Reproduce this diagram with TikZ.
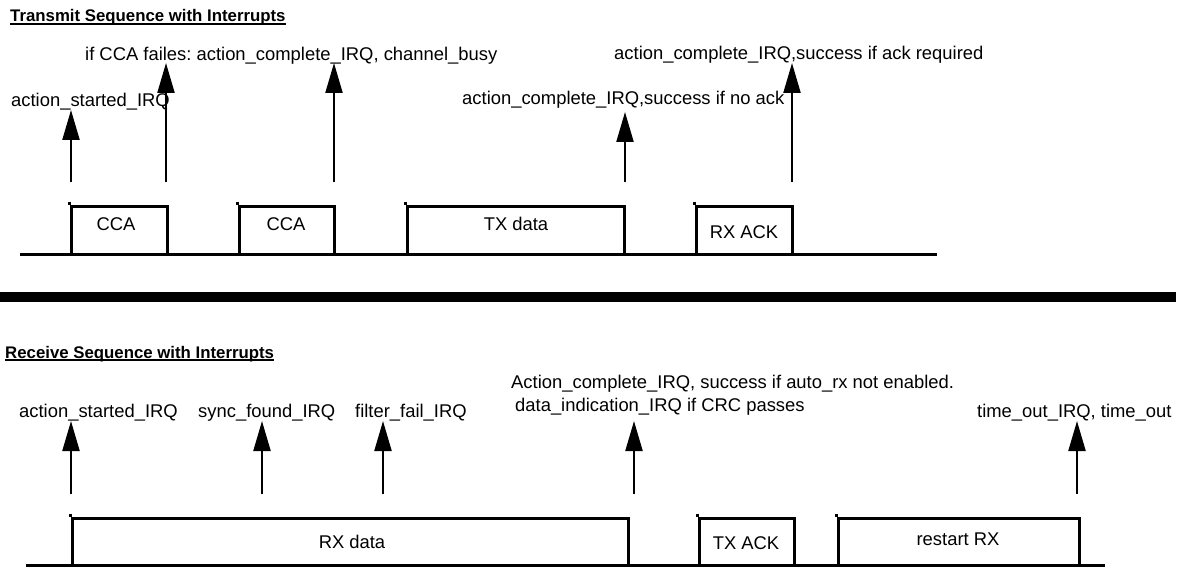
\documentclass[tikz,border=0pt]{standalone}
\usepackage{fontspec}
\setmainfont{Liberation Sans}
\usetikzlibrary{arrows.meta}
\frenchspacing
\tikzset{
  lbl/.style={anchor=base west, inner sep=0pt, font=\fontsize{18.4}{22}\selectfont},
  ttl/.style={anchor=base west, inner sep=0pt, font=\fontsize{16.8}{20}\selectfont\bfseries},
  boxtxt/.style={anchor=base, inner sep=0pt, font=\fontsize{18.4}{22}\selectfont},
  sigbox/.style={draw, line width=3pt, rectangle, inner sep=0pt, minimum height=48pt},
  irq/.style={line width=2.2pt, -{Triangle[length=30pt,width=17pt]}},
  timeline/.style={line width=3pt},
  uline/.style={line width=1.3pt},
  tick/.style={line width=3pt}
}
\begin{document}
\begin{tikzpicture}[x=1pt,y=-1pt]
\path[use as bounding box] (0,0) rectangle (1184,567);

% ---------- Transmit ----------
\node[ttl] (ttx) at (10,22) {Transmit Sequence with Interrupts};
\draw[uline] ([yshift=-2pt]ttx.base west) -- ([yshift=-2pt]ttx.base east);

\coordinate (tl0) at (20,254);
\coordinate (tl1) at (937,254);
\draw[timeline] (tl0) -- (tl1);

\node[sigbox, minimum width=96pt] (cca1) at (119,230) {};
\node[sigbox, minimum width=95pt] (cca2) at (286.5,230) {};
\node[sigbox, minimum width=217pt] (txd) at (515.5,230) {};
\node[sigbox, minimum width=96pt] (rxack) at (744,230) {};
\foreach \b in {cca1,cca2,txd,rxack} \draw[tick] (\b.north west) -- ++(0,-3);

\node[boxtxt] (cca1t) at (116,230) {CCA};
\node[boxtxt] (cca2t) at (286,230) {CCA};
\node[boxtxt] (txdt) at (516,230) {TX data};
\node[boxtxt] (rxackt) at (744,238) {RX ACK};

\node[lbl] (l1) at (11,107) {action\_started\_IRQ};
\node[lbl] (l2) at (85,61) {if CCA failes: action\_complete\_IRQ, channel\_busy};
\node[lbl] (l3) at (462,105) {action\_complete\_IRQ,success if no ack};
\node[lbl] (l4) at (614,60) {action\_complete\_IRQ,success if ack required};

\coordinate (a1s) at (71,182);  \coordinate (a1e) at (71,110);
\coordinate (a2s) at (166,182); \coordinate (a2e) at (166,63);
\coordinate (a3s) at (334,182); \coordinate (a3e) at (334,63);
\coordinate (a4s) at (625,182); \coordinate (a4e) at (625,112);
\coordinate (a5s) at (792,182); \coordinate (a5e) at (792,63);
\foreach \i in {1,...,5} \draw[irq] (a\i s) -- (a\i e);

% ---------- separator ----------
\fill (0,292) rectangle (1176,302);

% ---------- Receive ----------
\node[ttl] (trx) at (5,358) {Receive Sequence with Interrupts};
\draw[uline] ([yshift=-2pt]trx.base west) -- ([yshift=-2pt]trx.base east);

\coordinate (rl0) at (26,565);
\coordinate (rl1) at (1105,565);
\draw[timeline] (rl0) -- (rl1);

\node[sigbox, minimum width=556pt, minimum height=47pt] (rxd) at (350,541.5) {};
\node[sigbox, minimum width=95pt, minimum height=47pt] (txack) at (746.5,541.5) {};
\node[sigbox, minimum width=241pt, minimum height=47pt] (rst) at (958.5,541.5) {};
\foreach \b in {rxd,txack,rst} \draw[tick] (\b.north west) -- ++(0,-3);

\node[boxtxt] (rxdt) at (352,548) {RX data};
\node[boxtxt] (txackt) at (746,549) {TX ACK};
\node[boxtxt] (rstt) at (958,545) {restart RX};

\node[lbl] (m1) at (19,417) {action\_started\_IRQ};
\node[lbl] (m2) at (198,417) {sync\_found\_IRQ};
\node[lbl] (m3) at (355,417) {filter\_fail\_IRQ};
\node[lbl] (m4) at (511,388) {Action\_complete\_IRQ, success if auto\_rx not enabled.};
\node[lbl] (m5) at (515,411) {data\_indication\_IRQ if CRC passes};
\node[lbl] (m6) at (977,417) {time\_out\_IRQ, time\_out};

\coordinate (b1s) at (71,494);   \coordinate (b1e) at (71,421);
\coordinate (b2s) at (262,494);  \coordinate (b2e) at (262,421);
\coordinate (b3s) at (383,494);  \coordinate (b3e) at (383,421);
\coordinate (b4s) at (634,494);  \coordinate (b4e) at (634,421);
\coordinate (b5s) at (1077,494); \coordinate (b5e) at (1077,421);
\foreach \i in {1,...,5} \draw[irq] (b\i s) -- (b\i e);
\end{tikzpicture}
\end{document}
